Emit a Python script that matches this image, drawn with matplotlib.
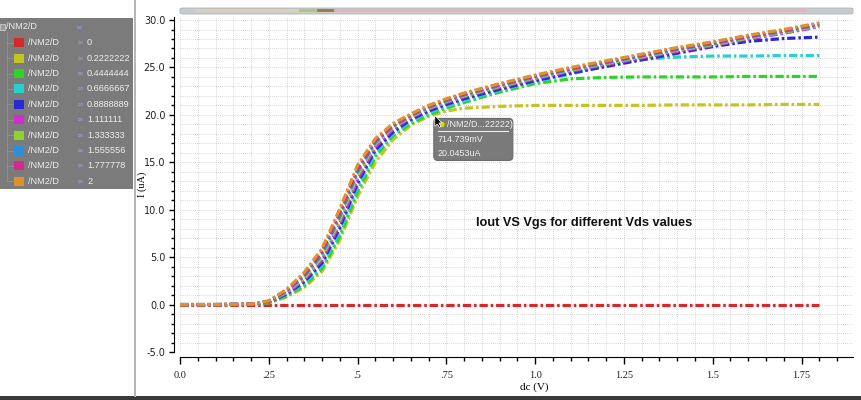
import matplotlib
matplotlib.use("Agg")
import matplotlib.pyplot as plt
from matplotlib.patches import Rectangle, FancyBboxPatch, Circle, Polygon
from matplotlib.lines import Line2D
from matplotlib.ticker import MultipleLocator, FixedLocator

# sweep of dc (V) and drain current (uA) for each Vds value
vgs = [0.0, 0.1, 0.2, 0.25, 0.3, 0.35, 0.4, 0.45, 0.5, 0.55, 0.6, 0.65, 0.7,
       0.75, 0.8, 0.9, 1.0, 1.1, 1.2, 1.3, 1.4, 1.5, 1.6, 1.7, 1.8]

vds_labels = ["0", "0.2222222", "0.4444444", "0.6666667", "0.8888889",
              "1.111111", "1.333333", "1.555556", "1.777778", "2"]

i_vds0 = [0.0, 0.0, 0.0, 0.0, 0.0, 0.0, 0.0, 0.0, 0.0, 0.0, 0.0, 0.0, 0.0,
          0.0, 0.0, 0.0, 0.0, 0.0, 0.0, 0.0, 0.0, 0.0, 0.0, 0.0, 0.0]
i_vds0222 = [0.0, 0.0, 0.02, 0.18, 0.8, 1.8, 3.5, 6.8, 11.4, 15.0, 17.4, 18.9, 19.85,
             20.4, 20.7, 20.9, 21.0, 21.0, 21.0, 21.0, 21.05, 21.05, 21.05, 21.1, 21.1]
i_vds0444 = [0.0, 0.0, 0.02, 0.2, 0.9, 2.0, 3.8, 7.2, 11.9, 15.6, 17.8, 19.1, 20.0,
             20.7, 21.3, 22.4, 23.3, 23.8, 23.95, 24.0, 24.0, 24.0, 24.05, 24.05, 24.05]
i_vds0667 = [0.0, 0.0, 0.02, 0.24, 1.0, 2.2, 4.1, 7.7, 12.4, 16.0, 18.0, 19.3, 20.2,
             20.9, 21.5, 22.6, 23.5, 24.3, 25.2, 25.85, 26.1, 26.2, 26.2, 26.25, 26.25]
i_vds0889 = [0.0, 0.0, 0.03, 0.26, 1.1, 2.4, 4.4, 8.1, 12.8, 16.3, 18.2, 19.5, 20.4,
             21.1, 21.7, 22.7, 23.6, 24.4, 25.1, 25.8, 26.5, 27.2, 27.75, 28.05, 28.2]
i_vds1111 = [0.0, 0.0, 0.03, 0.28, 1.2, 2.6, 4.7, 8.5, 13.2, 16.6, 18.5, 19.7, 20.6,
             21.3, 21.9, 22.9, 23.8, 24.6, 25.3, 26.0, 26.7, 27.3, 28.0, 28.6, 29.3]
i_vds1333 = [0.0, 0.0, 0.03, 0.3, 1.3, 2.8, 5.0, 8.9, 13.6, 16.9, 18.7, 19.8, 20.7,
             21.4, 22.0, 23.0, 23.9, 24.7, 25.4, 26.1, 26.8, 27.4, 28.1, 28.7, 29.4]
i_vds1556 = [0.0, 0.0, 0.04, 0.33, 1.4, 3.0, 5.3, 9.3, 14.0, 17.1, 18.8, 19.9, 20.8,
             21.5, 22.1, 23.1, 24.0, 24.8, 25.5, 26.2, 26.9, 27.5, 28.2, 28.8, 29.5]
i_vds1778 = [0.0, 0.0, 0.04, 0.36, 1.5, 3.2, 5.6, 9.7, 14.3, 17.3, 18.9, 20.0, 20.9,
             21.6, 22.2, 23.2, 24.1, 24.9, 25.6, 26.3, 27.0, 27.6, 28.3, 28.9, 29.6]
i_vds2 = [0.0, 0.0, 0.05, 0.4, 1.6, 3.4, 5.9, 10.1, 14.7, 17.5, 19.1, 20.1, 21.0,
          21.7, 22.3, 23.3, 24.2, 25.0, 25.7, 26.4, 27.1, 27.7, 28.4, 29.0, 29.7]

currents = [i_vds0, i_vds0222, i_vds0444, i_vds0667, i_vds0889,
            i_vds1111, i_vds1333, i_vds1556, i_vds1778, i_vds2]

colors = ["#d42a2a", "#c4c424", "#2ad42a", "#2ad0d0", "#2a2ad4",
          "#d42ad4", "#90d42a", "#2a8ed8", "#d42a8e", "#e0922a"]

# marker read by the cursor
probe_v = 0.714739
probe_i = 20.0453

xticks = [0.0, 0.25, 0.5, 0.75, 1.0, 1.25, 1.5, 1.75]
xticklabels = ["0.0", ".25", ".5", ".75", "1.0", "1.25", "1.5", "1.75"]
yticks = [-5.0, 0.0, 5.0, 10.0, 15.0, 20.0, 25.0, 30.0]

W, H = 862, 400
fig = plt.figure(figsize=(W / 100, H / 100), dpi=100)
fig.patch.set_facecolor("white")


def fx(x):
    return x / W


def fy(y):
    return 1 - y / H


ax = fig.add_axes([fx(180), fy(352), (853 - 180) / W, (352 - 16.7) / H])
ax.set_xlim(0, 1.895)
ax.set_ylim(-5, 30.35)

for spine in ["top", "right"]:
    ax.spines[spine].set_visible(False)
ax.spines["left"].set_position(("outward", 4.3))
ax.spines["bottom"].set_position(("outward", 3.6))

ax.xaxis.set_major_locator(FixedLocator(xticks))
ax.set_xticklabels(xticklabels)
ax.xaxis.set_minor_locator(MultipleLocator(0.05))
ax.yaxis.set_major_locator(FixedLocator(yticks))
ax.set_yticklabels(["%.1f" % t for t in yticks])
ax.yaxis.set_minor_locator(MultipleLocator(1.0))

ax.tick_params(axis="x", which="major", length=4.8, width=1, pad=5, labelsize=7.5)
ax.tick_params(axis="x", which="minor", length=2.8, width=1)
ax.tick_params(axis="y", which="major", length=3.8, width=1, pad=2.5, labelsize=7)
ax.tick_params(axis="y", which="minor", length=2.5, width=1)
for lab in ax.get_xticklabels():
    lab.set_family("Liberation Serif")
    lab.set_color("#222222")
for lab in ax.get_yticklabels():
    lab.set_family("DejaVu Sans")
    lab.set_color("#222222")

ax.grid(True, which="both", linestyle=(0, (1, 1.5)), color="#c8c8c8", linewidth=0.6)
ax.set_axisbelow(True)

ax.set_xlabel("dc (V)", family="Liberation Serif", fontsize=8)
ax.xaxis.set_label_coords(0.527, -0.092)
ax.set_ylabel("I (uA)", family="Liberation Serif", fontsize=7.5)
ax.yaxis.set_label_coords(-0.049, 0.5)

for cur, col in zip(currents, colors):
    ax.plot(vgs, cur, color=col, linewidth=2.3,
            linestyle=(0, (2.6, 0.9, 0.8, 0.9)), solid_capstyle="butt")

ax.text(1.138, 8.6, "Iout VS Vgs for different Vds values",
        family="Liberation Sans", fontweight="bold",
        fontsize=9.2, ha="center", va="center", color="#111111")

# cursor tooltip, placed from the probed point
fig.canvas.draw()
px, py = ax.transData.transform((probe_v, probe_i))
ident = matplotlib.transforms.IdentityTransform()
fig.add_artist(FancyBboxPatch((px, py - 46), 79, 42,
                              boxstyle="round,pad=0,rounding_size=4",
                              facecolor="#7a7a7a", edgecolor="#6a6a6a",
                              linewidth=0.8, transform=ident, zorder=5))
fig.add_artist(Circle((px + 8, py - 10), 3.2, facecolor="#d4d42a",
                      edgecolor="#8a8a20", linewidth=0.6, transform=ident, zorder=6))
fig.add_artist(Line2D([px + 4, px + 74], [py - 17, py - 17], color="#eeeeee",
                      linewidth=0.8, transform=ident, zorder=6))
tip_font = dict(family="Liberation Sans", fontsize=6.4, color="#f2f2f2",
                ha="left", va="center", transform=ident, zorder=6)
fig.text(px + 13, py - 10, "/NM2/D...22222)", **tip_font)
fig.text(px + 4, py - 25, "714.739mV", **tip_font)
fig.text(px + 4, py - 39, "20.0453uA", **tip_font)
fig.add_artist(Polygon([[px + 1, py - 1], [px + 1, py - 12], [px + 3.5, py - 9.5],
                        [px + 5.5, py - 13], [px + 7, py - 12], [px + 5, py - 8.5],
                        [px + 8, py - 8.5]], closed=True, facecolor="black",
                       edgecolor="white", linewidth=0.5, transform=ident, zorder=7))

# window chrome: legend panel, separator, scroll bar, status strip
fig.add_artist(Rectangle((fx(0), fy(189)), fx(133), (189 - 18) / H,
                         facecolor="#7b7b7b", edgecolor="none",
                         transform=fig.transFigure, zorder=1))
fig.add_artist(Line2D([fx(135), fx(135)], [fy(0), fy(396)], color="#b4b4b4",
                      linewidth=1.4, transform=fig.transFigure))
fig.add_artist(Rectangle((0, 0), 1, 4 / H, facecolor="#3a3a3a",
                         edgecolor="none", transform=fig.transFigure))
fig.add_artist(FancyBboxPatch((fx(180), fy(14)), (853 - 180) / W, 6 / H,
                              boxstyle="round,pad=0,rounding_size=0.003",
                              facecolor="#c8ccd0", edgecolor="#b0b4b8",
                              linewidth=0.6, transform=fig.transFigure))
fig.add_artist(Line2D([fx(197), fx(300)], [fy(9.5), fy(9.5)], color="#e0d0b4",
                      linewidth=2, transform=fig.transFigure))
fig.add_artist(Line2D([fx(300), fx(318)], [fy(9.5), fy(9.5)], color="#b0c870",
                      linewidth=2, transform=fig.transFigure))
fig.add_artist(Line2D([fx(318), fx(335)], [fy(9.5), fy(9.5)], color="#9a7a40",
                      linewidth=2, transform=fig.transFigure))
fig.add_artist(Line2D([fx(335), fx(805)], [fy(9.5), fy(9.5)], color="#e8b4b4",
                      linewidth=2, transform=fig.transFigure))

legend_font = dict(family="Liberation Sans", fontsize=6.6,
                   color="#eeeeee", va="center", ha="left", zorder=3)
fig.add_artist(Rectangle((fx(0), fy(30)), 5 / W, 6 / H, facecolor="#9a9a9a",
                         edgecolor="#dddddd", linewidth=0.5,
                         transform=fig.transFigure, zorder=3))
fig.text(fx(6), fy(26.5), "/NM2/D", **legend_font)
fig.text(fx(75), fy(27), "\u221e", family="DejaVu Sans", fontsize=5.5,
         color="#8fa8d8", va="center", ha="left", zorder=3)
fig.add_artist(Line2D([fx(7), fx(7)], [fy(32), fy(181)], color="#a8a8a8",
                      linewidth=0.6, linestyle=(0, (1, 1)),
                      transform=fig.transFigure, zorder=3))
for k, (lab, col) in enumerate(zip(vds_labels, colors)):
    cy = 42.7 + 15.4 * k
    fig.add_artist(Line2D([fx(7), fx(13)], [fy(cy), fy(cy)], color="#a8a8a8",
                          linewidth=0.6, linestyle=(0, (1, 1)),
                          transform=fig.transFigure, zorder=3))
    fig.add_artist(Rectangle((fx(14), fy(cy + 4.5)), 10 / W, 9 / H,
                             facecolor=col, edgecolor="none",
                             transform=fig.transFigure, zorder=3))
    fig.text(fx(28), fy(cy), "/NM2/D", **legend_font)
    fig.text(fx(76), fy(cy), "\u221e", family="DejaVu Sans", fontsize=5.5,
             color="#8fa8d8", va="center", ha="left", zorder=3)
    fig.text(fx(87), fy(cy), lab, **legend_font)

fig.savefig("out.png", dpi=100)
